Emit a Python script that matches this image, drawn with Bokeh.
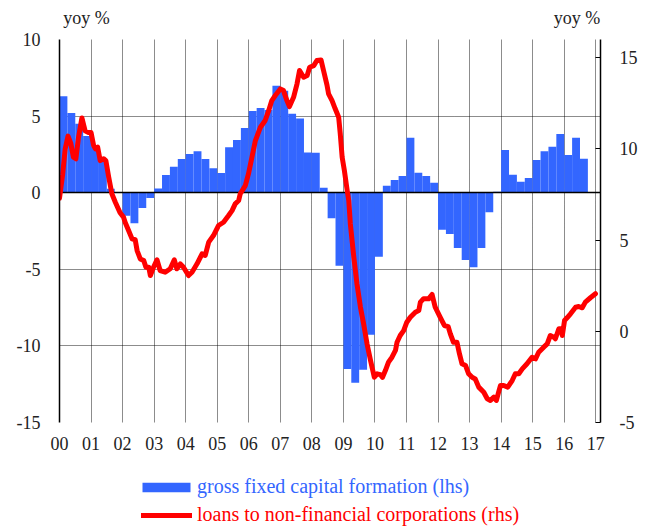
from bokeh.plotting import figure
from bokeh.layouts import column
from bokeh.models import Range1d, LinearAxis, FixedTicker, Legend, LegendItem, Label
from bokeh.embed import file_html
from bokeh.resources import INLINE

# ---------------- data ----------------
YEAR_TICKS = list(range(2000, 2018))
YEAR_LABELS = ["00", "01", "02", "03", "04", "05", "06", "07", "08", "09",
               "10", "11", "12", "13", "14", "15", "16", "17"]
LHS_TICKS = [-15, -10, -5, 0, 5, 10]
RHS_TICKS = [-5, 0, 5, 10, 15]

# gross fixed capital formation, yoy %, quarterly from 2000Q1 (lhs)
GFCF_FIRST_YEAR = 2000
GFCF = [6.3, 5.2, 4.5, 3.7,
        3.0, 2.0, 0.25, 0.0,
        -1.5, -2.0, -1.0, -0.35,
        0.28, 1.15, 1.7, 2.2,
        2.52, 2.7, 2.2, 1.6,
        1.28, 2.96, 3.44, 4.22,
        5.33, 5.53, 5.4, 6.98,
        6.66, 5.15, 4.85, 2.62,
        2.6, 0.33, -1.67, -4.77,
        -11.5, -12.4, -11.55, -9.27,
        -4.18, 0.46, 0.83, 1.09,
        3.59, 1.3, 1.09, 0.65,
        -2.42, -2.7, -3.61, -4.4,
        -4.87, -3.61, -1.28, 0.07,
        2.78, 1.17, 0.72, 0.96,
        2.13, 2.7, 3.0, 3.83,
        2.46, 3.59, 2.22]

# loans to non-financial corporations, yoy % (rhs)
LOAN_T = [2000.00, 2000.10, 2000.18, 2000.27, 2000.36, 2000.44, 2000.52, 2000.60, 2000.71, 2000.81,
          2000.92, 2001.00, 2001.08, 2001.14, 2001.21, 2001.29, 2001.40, 2001.47, 2001.56, 2001.66,
          2001.77, 2001.92, 2002.03, 2002.08, 2002.19, 2002.30, 2002.40, 2002.46, 2002.56, 2002.67,
          2002.74, 2002.83, 2002.88, 2002.98, 2003.09, 2003.19, 2003.35, 2003.51, 2003.64, 2003.72,
          2003.83, 2003.93, 2004.09, 2004.20, 2004.36, 2004.52, 2004.62, 2004.73, 2004.88, 2005.04,
          2005.20, 2005.36, 2005.47, 2005.57, 2005.68, 2005.73, 2005.89, 2005.99, 2006.10, 2006.21,
          2006.37, 2006.52, 2006.63, 2006.73, 2006.84, 2007.00, 2007.10, 2007.21, 2007.29, 2007.42,
          2007.53, 2007.61, 2007.74, 2007.85, 2007.93, 2008.06, 2008.16, 2008.29, 2008.37, 2008.48,
          2008.53, 2008.64, 2008.74, 2008.85, 2008.90, 2008.96, 2009.03, 2009.12, 2009.17, 2009.22,
          2009.33, 2009.43, 2009.54, 2009.64, 2009.75, 2009.86, 2009.98, 2010.07, 2010.17, 2010.24,
          2010.33, 2010.43, 2010.54, 2010.65, 2010.70, 2010.80, 2010.91, 2011.01, 2011.12, 2011.28,
          2011.39, 2011.44, 2011.54, 2011.70, 2011.81, 2011.91, 2012.07, 2012.20, 2012.32, 2012.39,
          2012.49, 2012.60, 2012.68, 2012.76, 2012.87, 2012.97, 2013.08, 2013.18, 2013.29, 2013.45,
          2013.56, 2013.66, 2013.77, 2013.85, 2013.92, 2013.98, 2014.08, 2014.21, 2014.35, 2014.45,
          2014.56, 2014.67, 2014.82, 2014.98, 2015.09, 2015.19, 2015.35, 2015.46, 2015.56, 2015.67,
          2015.72, 2015.83, 2015.90, 2015.94, 2016.01, 2016.09, 2016.20, 2016.36, 2016.46, 2016.57,
          2016.67, 2016.83, 2016.99]
LOAN_V = [7.3, 8.6, 10.0, 10.7, 10.3, 9.55, 9.46, 10.6, 11.7, 11.0,
          10.9, 10.9, 10.2, 10.0, 10.1, 9.36, 9.46, 9.36, 8.45, 7.54,
          7.08, 6.5, 6.26, 5.98, 5.53, 5.07, 5.02, 4.43, 3.97, 3.88,
          3.51, 3.51, 3.06, 3.51, 3.92, 3.33, 3.24, 3.43, 3.92, 3.43,
          3.70, 3.51, 3.06, 3.24, 3.70, 4.25, 4.16, 4.89, 5.25, 5.80,
          5.98, 6.35, 6.62, 6.99, 7.17, 7.54, 7.99, 8.63, 9.55, 10.46,
          11.19, 11.56, 12.1, 12.65, 12.93, 13.29, 13.2, 12.65, 12.32, 12.83,
          13.57, 14.3, 13.93, 14.02, 14.48, 14.57, 14.85, 14.88, 14.3, 13.5,
          13.02, 12.65, 12.2, 11.74, 10.83, 9.55, 8.82, 7.72, 7.17, 5.89,
          4.06, 2.6, 1.32, 0.41, -0.69, -1.6, -2.52, -2.33, -2.38, -2.52,
          -2.15, -1.69, -1.42, -1.05, -0.6, -0.23, 0.04, 0.5, 0.77, 1.05,
          1.14, 1.6, 1.78, 1.78, 2.02, 1.32, 0.77, 0.32, 0.26, -0.14,
          -0.6, -0.6, -1.24, -1.78, -1.87, -2.33, -2.52, -2.61, -3.06, -3.34,
          -3.70, -3.79, -3.61, -3.79, -3.34, -2.97, -2.97, -3.06, -2.70, -2.33,
          -2.33, -2.06, -1.78, -1.42, -1.51, -1.15, -0.87, -0.69, -0.23, -0.32,
          -0.41, 0.14, 0.14, -0.23, 0.59, 0.74, 0.96, 1.32, 1.36, 1.29,
          1.6, 1.84, 2.06]

ZERO = [0]
UNIT_LABEL = "yoy %"
LEGEND_BARS = "gross fixed capital formation (lhs)"
LEGEND_LINE = "loans to non-financial corporations (rhs)"

BLUE = "#3366ff"
RED = "#ff0000"
FONT = "Liberation Serif"
FS = "18px"
TXT = "#222222"
W = 653

xr = Range1d(2000, 2017.15)
gfcf_x = [GFCF_FIRST_YEAR + 0.125 + 0.25 * i for i in range(len(GFCF))]

# ---------------- top strip: unit labels ----------------
top = figure(width=W, height=29, output_backend="svg", toolbar_location=None,
             x_range=xr, y_range=Range1d(0, 29),
             x_axis_location=None, y_axis_location=None,
             min_border_left=59, min_border_right=53, min_border_top=0, min_border_bottom=0)
top.outline_line_color = None
top.grid.visible = False
top.add_layout(Label(x=2000.12, y=12, text=UNIT_LABEL, text_font=FONT, text_font_size=FS,
                     text_color=TXT, text_baseline="alphabetic"))
top.add_layout(Label(x=2017.14, y=12, text=UNIT_LABEL, text_font=FONT, text_font_size=FS,
                     text_color=TXT, text_baseline="alphabetic", text_align="right"))

# ---------------- main chart ----------------
p = figure(width=W, height=428, output_backend="svg", toolbar_location=None,
           x_range=xr, y_range=Range1d(-15, 10),
           min_border_left=59, min_border_right=53, min_border_top=10, min_border_bottom=35)
p.outline_line_color = None
p.extra_y_ranges = {"rhs": Range1d(-5, 16)}

p.xaxis.ticker = FixedTicker(ticks=YEAR_TICKS)
p.xaxis.major_label_overrides = {t: l for t, l in zip(YEAR_TICKS, YEAR_LABELS)}
p.xaxis.axis_line_color = None
p.xaxis.major_tick_line_color = None
p.xaxis.minor_tick_line_color = None
p.xaxis.major_label_standoff = 8

p.yaxis.ticker = FixedTicker(ticks=LHS_TICKS)
p.yaxis.major_label_overrides = {t: str(t) for t in LHS_TICKS}
p.yaxis.axis_line_color = "black"
p.yaxis.axis_line_width = 1.5
p.yaxis.major_tick_line_color = None
p.yaxis.minor_tick_line_color = None
p.yaxis.major_label_standoff = 13

raxis = LinearAxis(y_range_name="rhs", ticker=FixedTicker(ticks=RHS_TICKS))
raxis.major_label_overrides = {t: str(t) for t in RHS_TICKS}
raxis.axis_line_color = "black"
raxis.axis_line_width = 1.5
raxis.major_tick_in = 5
raxis.major_tick_out = 0
raxis.minor_tick_line_color = None
raxis.major_label_standoff = 19
p.add_layout(raxis, "right")

for ax in [p.xaxis[0], p.yaxis[0], raxis]:
    ax.major_label_text_font = FONT
    ax.major_label_text_font_size = FS
    ax.major_label_text_color = TXT

for g in [p.xgrid[0], p.ygrid[0]]:
    g.grid_line_color = "black"
    g.grid_line_dash = "1 1"
    g.grid_line_width = 1
    g.grid_line_alpha = 0.9

p.vbar(x=gfcf_x, top=GFCF, bottom=0, width=0.25, fill_color=BLUE, line_color=None)
p.hspan(y=ZERO, line_color="black", line_width=1.5)
p.line(LOAN_T, LOAN_V, y_range_name="rhs", line_color=RED, line_width=5,
       line_join="round", line_cap="round")

# ---------------- bottom strip: legend ----------------
# the same series are drawn here outside the visible range, only to feed the legend keys
leg = figure(width=W, height=70, output_backend="svg", toolbar_location=None,
             x_range=xr, y_range=Range1d(100, 101),
             x_axis_location=None, y_axis_location=None,
             min_border_left=59, min_border_right=53, min_border_top=0, min_border_bottom=0)
leg.outline_line_color = None
leg.grid.visible = False
lb = leg.vbar(x=gfcf_x, top=GFCF, bottom=0, width=0.25, fill_color=BLUE, line_color=None)
ll = leg.line(LOAN_T, LOAN_V, line_color=RED, line_width=5, line_cap="round")

common = dict(orientation="vertical", padding=0, margin=0, spacing=0,
              border_line_color=None, background_fill_alpha=0,
              label_text_font=FONT, label_text_font_size="20px", label_height=12)
leg1 = Legend(items=[LegendItem(label=LEGEND_BARS, renderers=[lb])],
              location=(77, 29), glyph_width=60, glyph_height=12, label_standoff=1,
              label_text_color=BLUE, **common)
leg2 = Legend(items=[LegendItem(label=LEGEND_LINE, renderers=[ll])],
              location=(82, 1), glyph_width=51, glyph_height=12, label_standoff=5,
              label_text_color=RED, **common)
leg.add_layout(leg1)
leg.add_layout(leg2)

layout = column(top, p, leg, spacing=0)
open("out.html", "w").write(file_html(layout, INLINE))
